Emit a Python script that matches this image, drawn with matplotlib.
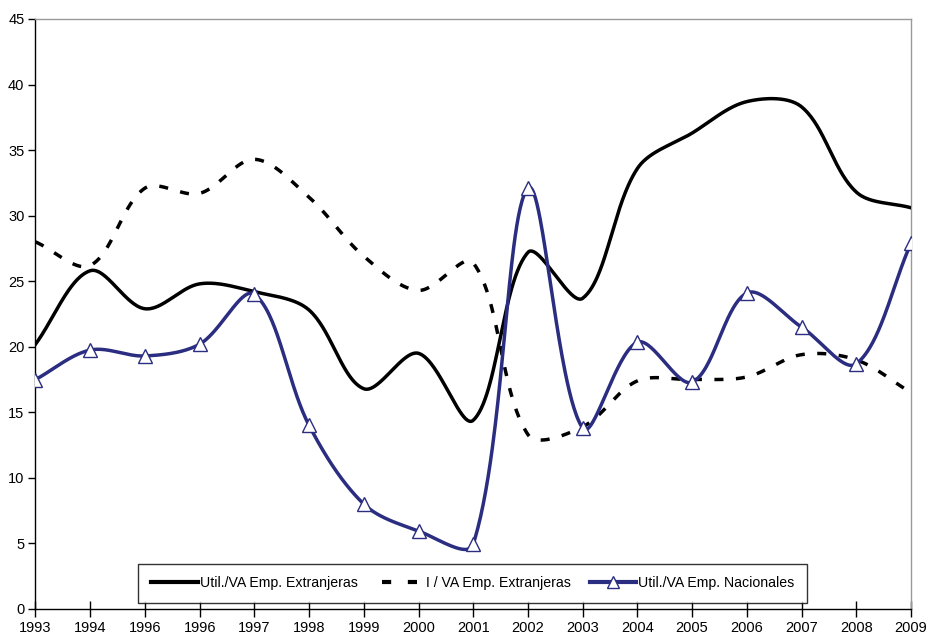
import numpy as np
import matplotlib
matplotlib.use("Agg")
import matplotlib.pyplot as plt
from matplotlib.lines import Line2D

plt.rcParams['font.family'] = ['Liberation Sans', 'DejaVu Sans']

years = ["1993", "1994", "1996", "1996", "1997", "1998", "1999", "2000", "2001",
         "2002", "2003", "2004", "2005", "2006", "2007", "2008", "2009"]

util_extranjeras = [20.2, 25.8, 22.9, 24.8, 24.2, 22.8, 16.8, 19.5, 14.4,
                    27.2, 23.7, 33.6, 36.3, 38.7, 38.3, 31.8, 30.6]
inv_extranjeras = [28.0, 26.2, 32.1, 31.7, 34.3, 31.4, 26.9, 24.3, 26.4,
                   13.3, 13.9, 17.4, 17.5, 17.7, 19.4, 19.0, 16.5]
util_nacionales = [17.5, 19.75, 19.3, 20.2, 24.0, 14.0, 8.0, 5.95, 4.95,
                   32.1, 13.8, 20.35, 17.3, 24.1, 21.5, 18.7, 27.9]

labels = ["Util./VA Emp. Extranjeras", "I / VA Emp. Extranjeras",
          "Util./VA Emp. Nacionales"]

NAVY = "#2B2D80"

# screen scale of one x step and one y unit, used to weight the curve handles
X_PX = (911 - 35.5) / 16
Y_PX = (609 - 19) / 45


def smooth(x, y, n=60):
    """Smoothed line: cubic Bezier through every point, handles split by chord length."""
    P = np.column_stack([np.asarray(x, float) * X_PX, np.asarray(y, float) * Y_PX])
    m = len(P)
    d = np.hypot(*np.diff(P, axis=0).T)
    after = np.zeros_like(P)
    before = np.zeros_like(P)
    for i in range(m):
        prev_p = P[i - 1] if i > 0 else P[i]
        next_p = P[i + 1] if i < m - 1 else P[i]
        T = next_p - prev_p
        d0 = d[i - 1] if i > 0 else 0.0
        d1 = d[i] if i < m - 1 else 0.0
        tot = d0 + d1
        before[i] = P[i] - T * (d0 / tot) / 3.0
        after[i] = P[i] + T * (d1 / tot) / 3.0
    t = np.linspace(0, 1, n)[:, None]
    pts = []
    for i in range(m - 1):
        p0, c1, c2, p3 = P[i], after[i], before[i + 1], P[i + 1]
        b = (1 - t) ** 3 * p0 + 3 * (1 - t) ** 2 * t * c1 + 3 * (1 - t) * t ** 2 * c2 + t ** 3 * p3
        pts.append(b)
    pts = np.vstack(pts)
    return pts[:, 0] / X_PX, pts[:, 1] / Y_PX


fig = plt.figure(figsize=(9.28, 6.34), dpi=100)
ax = fig.add_axes([35.5 / 928, 1 - 609 / 634, (911 - 35.5) / 928, (609 - 19) / 634])

x = np.arange(len(years))

sx, sy = smooth(x, util_extranjeras)
ax.plot(sx, sy, color="black", lw=2.5, zorder=3)

sx, sy = smooth(x, inv_extranjeras)
ax.plot(sx, sy, color="black", lw=2.5, dashes=(2.6, 3.6), zorder=3)

sx, sy = smooth(x, util_nacionales)
ax.plot(sx, sy, color=NAVY, lw=2.5, zorder=3)
ax.plot(x, util_nacionales, ls="none", marker="^", ms=10, mfc="white",
        mec=NAVY, mew=1.0, zorder=4)

ax.set_xlim(0, len(years) - 1)
ax.set_ylim(0, 45)
ax.set_yticks(np.arange(0, 46, 5))
ax.set_xticks(x)
ax.set_xticklabels(years)

ax.spines["top"].set_color("#999999")
ax.spines["right"].set_color("#999999")
ax.spines["left"].set_color("black")
ax.spines["bottom"].set_color("black")
for s in ax.spines.values():
    s.set_linewidth(1.0)

ax.tick_params(axis="y", direction="out", length=5, width=1, labelsize=10.5, pad=3)
ax.tick_params(axis="x", direction="inout", length=12, width=1, labelsize=10.5, pad=3)

handles = [
    Line2D([], [], color="black", lw=3),
    Line2D([], [], color="black", lw=3, linestyle=(5.0, (2.2, 4.0))),
    Line2D([], [], color=NAVY, lw=3, marker="^", ms=9, mfc="white", mec=NAVY, mew=1.0),
]
leg = ax.legend(handles, labels, loc="lower left", bbox_to_anchor=(138 / 928, 31 / 634),
                bbox_transform=fig.transFigure, borderaxespad=0, ncol=3, frameon=True,
                fancybox=False, edgecolor="black", fontsize=10.2, handlelength=3.3,
                handletextpad=0.15, columnspacing=1.35, borderpad=0.9)
leg.get_frame().set_linewidth(1.0)
leg.set_zorder(5)

fig.savefig("out.png", dpi=100, facecolor="white")
